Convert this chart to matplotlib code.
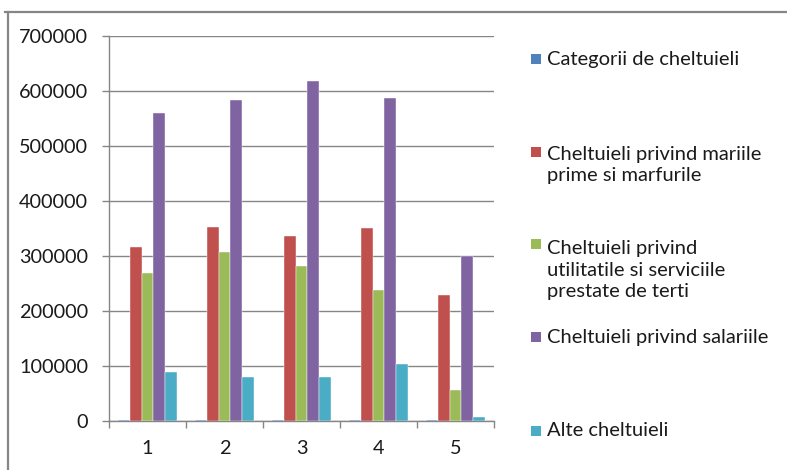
import numpy as np
import matplotlib
matplotlib.use("Agg")
import matplotlib.pyplot as plt
from matplotlib.patches import Rectangle
from matplotlib.lines import Line2D

plt.rcParams["font.family"] = ["Lato", "DejaVu Sans"]

# data
categories = ["1", "2", "3", "4", "5"]
series_names = [
    "Categorii de cheltuieli",
    "Cheltuieli privind mariile\nprime si marfurile",
    "Cheltuieli privind\nutilitatile si serviciile\nprestate de terti",
    "Cheltuieli privind salariile",
    "Alte cheltuieli",
]
categorii = [2500, 2500, 2500, 2500, 2500]
materii_prime = [316000, 353000, 336000, 351000, 230000]
utilitati = [269000, 307000, 282000, 238000, 56000]
salarii = [560000, 584000, 619000, 588000, 300000]
alte = [88500, 80500, 80500, 103500, 7000]
y_ticks = [0, 100000, 200000, 300000, 400000, 500000, 600000, 700000]

series_values = [categorii, materii_prime, utilitati, salarii, alte]
colors = ["#4F81BD", "#C0504D", "#9BBB59", "#8064A2", "#4BACC6"]
grey = "#868686"

W, H = 787, 470
fig = plt.figure(figsize=(W / 100, H / 100), dpi=100)

# outer chart frame (only top and left edges show)
fig.add_artist(Line2D([5 / W, 1], [1 - 12 / H] * 2, color=grey, lw=1.6))
fig.add_artist(Line2D([8 / W] * 2, [0, 1 - 12 / H], color=grey, lw=1.6))

ax = fig.add_axes([109 / W, 1 - 421 / H, (494 - 109) / W, (421 - 36) / H])

n = len(series_values)
bar_w = 1 / (n + 1.5)
centers = np.arange(len(categories)) + 0.5
for k, (vals, col) in enumerate(zip(series_values, colors)):
    ax.bar(centers + (k - (n - 1) / 2) * bar_w, vals, width=bar_w,
           color=col, edgecolor="white", linewidth=0.3, zorder=3)

ax.set_xlim(0, len(categories))
ax.set_ylim(0, 700000)
ax.set_yticks(y_ticks)
ax.set_yticklabels([str(v) for v in y_ticks])
ax.set_xticks(centers)
ax.set_xticklabels(categories)
ax.set_xticks(np.arange(len(categories) + 1), minor=True)

ax.grid(axis="y", color=grey, linewidth=1.0, zorder=0)
for s in ["top", "right"]:
    ax.spines[s].set_visible(False)
for s in ["left", "bottom"]:
    ax.spines[s].set_color(grey)
    ax.spines[s].set_linewidth(1.0)

ax.tick_params(axis="y", length=5, width=1, color=grey, pad=10,
               labelsize=14.3, labelcolor="#1a1a1a")
ax.tick_params(axis="x", which="major", length=0, pad=14,
               labelsize=14.3, labelcolor="#1a1a1a")
ax.tick_params(axis="x", which="minor", length=5, width=1, color=grey)

# legend drawn as separate entries, evenly spread down the right side
legend_y = [59, 165, 270, 337, 431]
for name, col, yc in zip(series_names, colors, legend_y):
    lines = name.count("\n") + 1
    first = yc - (lines - 1) * 26 / 2
    fig.add_artist(Rectangle((531 / W, 1 - (first + 5) / H), 10 / W, 10 / H,
                             facecolor=col, edgecolor="none"))
    fig.text(547 / W, 1 - yc / H, name, ha="left", va="center",
             fontsize=14.5, color="#1a1a1a", linespacing=1.29)

fig.savefig("out.png", dpi=100)
